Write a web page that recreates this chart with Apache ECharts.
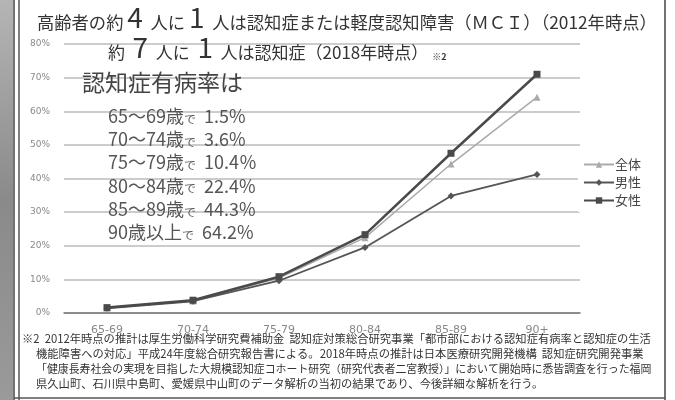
<!DOCTYPE html>
<html>
<head>
<meta charset="utf-8">
<script src="https://cdn.jsdelivr.net/npm/echarts@6/dist/echarts.min.js"></script>
<style>
  html, body { margin: 0; padding: 0; background: #fff; }
  #main { width: 675px; height: 400px; }
</style>
</head>
<body>
<div id="main"></div>
<script>
var ageGroups = ['65-69', '70-74', '75-79', '80-84', '85-89', '90+'];
var allRate = [1.5, 3.6, 10.4, 22.4, 44.3, 64.2];
var maleRate = [1.4, 3.5, 9.6, 19.5, 34.8, 41.2];
var femaleRate = [1.6, 3.8, 10.8, 23.3, 47.5, 71.0];
var rateLines = ['65～69歳で', '70～74歳で', '75～79歳で', '80～84歳で', '85～89歳で', '90歳以上で'];
var rateTexts = ['1.5%', '3.6%', '10.4％', '22.4%', '44.3%', '64.2%'];
var footnote = [
    '※2  2012年時点の推計は厚生労働科学研究費補助金  認知症対策総合研究事業「都市部における認知症有病率と認知症の生活',
    '機能障害への対応」平成24年度総合研究報告書による。2018年時点の推計は日本医療研究開発機構  認知症研究開発事業',
    '「健康長寿社会の実現を目指した大規模認知症コホート研究（研究代表者二宮教授）」において開始時に悉皆調査を行った福岡',
    '県久山町、石川県中島町、愛媛県中山町のデータ解析の当初の結果であり、今後詳細な解析を行う。'
];
var footSizes = [11.3, 11.3, 10.9, 11.3];

var font = '"Noto Sans CJK JP", "Noto Sans", sans-serif';

var myChart = echarts.init(document.getElementById('main'));

var graphics = [
    // 左の写真部分と枠線
    { type: 'rect', shape: { x: 0, y: 0, width: 13, height: 400 },
      style: { fill: new echarts.graphic.LinearGradient(0, 0, 0, 1, [
          { offset: 0, color: '#b5b5b5' }, { offset: 0.5, color: '#8a8a8a' }, { offset: 1, color: '#9a9a9a' }]) } },
    { type: 'line', shape: { x1: 14, y1: 0, x2: 14, y2: 400 }, style: { stroke: '#444', lineWidth: 1.5 } },
    { type: 'line', shape: { x1: 19, y1: 0, x2: 19, y2: 400 }, style: { stroke: '#555', lineWidth: 1.5 } },
    { type: 'line', shape: { x1: 665, y1: 0, x2: 665, y2: 400 }, style: { stroke: '#444', lineWidth: 1.5 } },
    { type: 'line', shape: { x1: 14, y1: 398, x2: 665, y2: 398 }, style: { stroke: '#555', lineWidth: 1.5 } },
    {
        type: 'text', left: 37, top: 3, z: 10,
        style: {
            text: '{a|高齢者の約 }{b|4}{a|  人に }{b|1}{a|  人は認知症または軽度認知障害（ＭＣＩ）（2012年時点）}',
            rich: {
                a: { fontSize: 17.3, fill: '#333', fontFamily: font, verticalAlign: 'bottom', lineHeight: 31 },
                b: { fontSize: 28, fill: '#333', fontFamily: font, verticalAlign: 'bottom', lineHeight: 31 }
            }
        }
    },
    {
        type: 'text', left: 108, top: 33, z: 10,
        style: {
            text: '{a|約  }{b|7}{a|  人に  }{b|1}{a|  人は認知症（2018年時点）}{c|  ※2}',
            rich: {
                a: { fontSize: 17, fill: '#333', fontFamily: font, verticalAlign: 'bottom', lineHeight: 31 },
                b: { fontSize: 28, fill: '#333', fontFamily: font, verticalAlign: 'bottom', lineHeight: 31 },
                c: { fontSize: 9, fill: '#333', fontWeight: 'bold', fontFamily: font, verticalAlign: 'bottom', lineHeight: 28 }
            }
        }
    },
    {
        type: 'text', left: 82, top: 71, z: 10,
        style: { text: '認知症有病率は', fontSize: 23, fill: '#444', fontFamily: font }
    }
];

for (var i = 0; i < rateLines.length; i++) {
    var parts = rateLines[i].split('で');
    graphics.push({
        type: 'text', left: 108, top: 107 + i * 23.3, z: 10,
        style: {
            text: '{n|' + parts[0] + '}{s|で}{n|  ' + rateTexts[i] + '}',
            rich: {
                n: { fontSize: 18, fill: '#555', fontFamily: font, verticalAlign: 'bottom', lineHeight: 22 },
                s: { fontSize: 12, fill: '#555', fontFamily: font, verticalAlign: 'bottom', lineHeight: 20 }
            }
        }
    });
}

for (var j = 0; j < footnote.length; j++) {
    graphics.push({
        type: 'text', left: j === 0 ? 22 : 36, top: 333 + j * 15, z: 10,
        style: { text: footnote[j], fontSize: footSizes[j], fill: '#333', fontFamily: font }
    });
}

var option = {
    backgroundColor: '#fff',
    animation: false,
    grid: { left: 64, right: 95, top: 44, bottom: 87 },
    legend: {
        orient: 'vertical',
        left: 578,
        top: 153,
        itemGap: 5,
        itemWidth: 30,
        itemHeight: 8,
        backgroundColor: '#fff',
        textStyle: { fontSize: 13, color: '#444', fontFamily: font, padding: [0, 0, 0, -4] },
        data: ['全体', '男性', '女性']
    },
    xAxis: {
        type: 'category',
        data: ageGroups,
        axisTick: { show: false },
        axisLine: { lineStyle: { color: '#777', width: 1.5 } },
        axisLabel: { color: '#888', fontSize: 11, margin: 12, fontFamily: 'DejaVu Sans' }
    },
    yAxis: {
        type: 'value',
        min: 0,
        max: 80,
        interval: 10,
        axisLine: { show: false },
        axisTick: { show: false },
        axisLabel: { formatter: '{value}%', color: '#888', fontSize: 9, margin: 14, fontFamily: 'DejaVu Sans' },
        splitLine: { lineStyle: { color: '#bbb', width: 1.5 } }
    },
    series: [
        {
            name: '全体', type: 'line', data: allRate,
            symbol: 'triangle', symbolSize: 7,
            lineStyle: { color: '#aaa', width: 1.5 },
            itemStyle: { color: '#aaa' }, z: 3
        },
        {
            name: '男性', type: 'line', data: maleRate,
            symbol: 'diamond', symbolSize: 7,
            lineStyle: { color: '#555', width: 1.8 },
            itemStyle: { color: '#555' }, z: 4
        },
        {
            name: '女性', type: 'line', data: femaleRate,
            symbol: 'rect', symbolSize: 7,
            lineStyle: { color: '#4a4a4a', width: 2.5 },
            itemStyle: { color: '#4a4a4a' }, z: 5
        }
    ],
    graphic: graphics
};

myChart.setOption(option);
</script>
</body>
</html>
